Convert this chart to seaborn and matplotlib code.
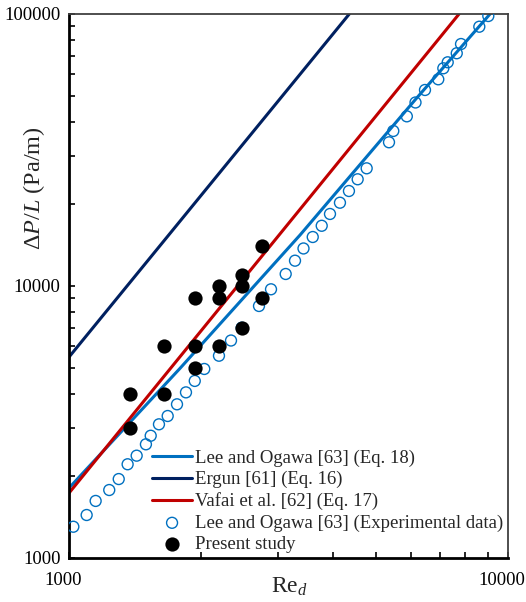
import matplotlib
matplotlib.use("Agg")
import matplotlib.pyplot as plt
import matplotlib.ticker as mticker
from matplotlib.transforms import ScaledTranslation
import pandas as pd
import seaborn as sns

# correlation lines (Re_d, dP/L in Pa/m)
lee_eq_re = [1000, 1790, 3360, 6140, 9100]
lee_eq_dp = [1808, 4980, 15400, 48300, 100000]
ergun_re = [1000, 4350]
ergun_dp = [5480, 100000]
vafai_re = [1000, 7735]
vafai_dp = [1733, 100000]

# Lee and Ogawa experimental data
lee_exp_re = [1023, 1097, 1150, 1235, 1298, 1360, 1426, 1497, 1535, 1603,
              1678, 1762, 1847, 1934, 2033, 2196, 2339, 2474, 2709, 2885,
              3116, 3272, 3421, 3591, 3764, 3931, 4142, 4342, 4545, 4765,
              5357, 5479, 5882, 6156, 6470, 6937, 7123, 7289, 7643, 7816,
              8603, 9019]
lee_exp_dp = [1303, 1439, 1621, 1778, 1951, 2211, 2378, 2618, 2815, 3101,
              3327, 3673, 4064, 4477, 4954, 5542, 6303, 7026, 8444, 9725,
              11070, 12390, 13740, 15140, 16650, 18400, 20240, 22350, 24680, 27080,
              33760, 37150, 42050, 47280, 52560, 57530, 63150, 66440, 71730, 77560,
              89800, 98300]

# present study
present_re = [1380, 1380, 1650, 1650, 1940, 1940, 1940, 2200, 2200, 2200,
              2480, 2480, 2480, 2750, 2750]
present_dp = [4000, 3000, 6000, 4000, 9000, 6000, 5000, 10000, 9000, 6000,
              11000, 10000, 7000, 14000, 9000]

BLUE = "#0070C0"
NAVY = "#002060"
RED = "#C00000"

sns.set_style("white")
plt.rcParams["font.family"] = ["Liberation Serif", "DejaVu Serif"]
plt.rcParams["mathtext.fontset"] = "custom"
plt.rcParams["mathtext.rm"] = "Liberation Serif"
plt.rcParams["mathtext.it"] = "Liberation Serif:italic"
plt.rcParams["font.size"] = 13.5

fig = plt.figure(figsize=(5.26, 6.02), dpi=100)
ax = fig.add_axes([69 / 526, 44 / 602, 439 / 526, 544 / 602])

sns.lineplot(x=lee_eq_re, y=lee_eq_dp, color=BLUE, lw=2.2, sort=False,
             estimator=None, label="Lee and Ogawa [63] (Eq. 18)", ax=ax)
sns.lineplot(x=ergun_re, y=ergun_dp, color=NAVY, lw=2.2, sort=False,
             estimator=None, label="Ergun [61] (Eq. 16)", ax=ax)
sns.lineplot(x=vafai_re, y=vafai_dp, color=RED, lw=2.2, sort=False,
             estimator=None, label="Vafai et al. [62] (Eq. 17)", ax=ax)
sns.scatterplot(x=lee_exp_re, y=lee_exp_dp, marker="o", s=62, facecolor="none",
                edgecolor=BLUE, linewidth=1.0,
                label="Lee and Ogawa [63] (Experimental data)", ax=ax, zorder=3)
sns.scatterplot(x=present_re, y=present_dp, marker="o", s=105, color="black",
                linewidth=0, label="Present study", ax=ax, zorder=4)

ax.set_xscale("log")
ax.set_yscale("log")
ax.set_xlim(1000, 10000)
ax.set_ylim(1000, 100000)

fmt = mticker.FuncFormatter(lambda v, _: f"{v:.0f}")
ax.xaxis.set_major_formatter(fmt)
ax.yaxis.set_major_formatter(fmt)
ax.xaxis.set_minor_formatter(mticker.NullFormatter())
ax.yaxis.set_minor_formatter(mticker.NullFormatter())
ax.tick_params(which="both", direction="in", length=4.5, width=1.2,
               bottom=True, left=True, top=False, right=False,
               colors="black", labelsize=13.5)
ax.tick_params(axis="x", which="both", pad=10)
ax.tick_params(axis="y", which="both", pad=6)

for side in ["left", "bottom"]:
    ax.spines[side].set_color("black")
    ax.spines[side].set_linewidth(2.0)
for side in ["top", "right"]:
    ax.spines[side].set_color("#404040")
    ax.spines[side].set_linewidth(1.3)

# x tick labels in the reference sit slightly left of their ticks
for lbl in ax.get_xticklabels():
    lbl.set_transform(lbl.get_transform() + ScaledTranslation(-0.06, 0, fig.dpi_scale_trans))

ax.set_ylabel(r"$\Delta P/L$ (Pa/m)", fontsize=17.5)
ax.yaxis.set_label_coords(-0.051, 0.68)
ax.set_xlabel(r"Re$_{d}$", fontsize=17)
ax.xaxis.set_label_coords(0.503, -0.032)

ax.legend(loc="lower left", bbox_to_anchor=(0.16, -0.015), frameon=False,
          handlelength=2.1, handletextpad=0.2, labelspacing=0.22,
          borderpad=0.2, fontsize=13.5)

fig.savefig("out.png", dpi=100)
